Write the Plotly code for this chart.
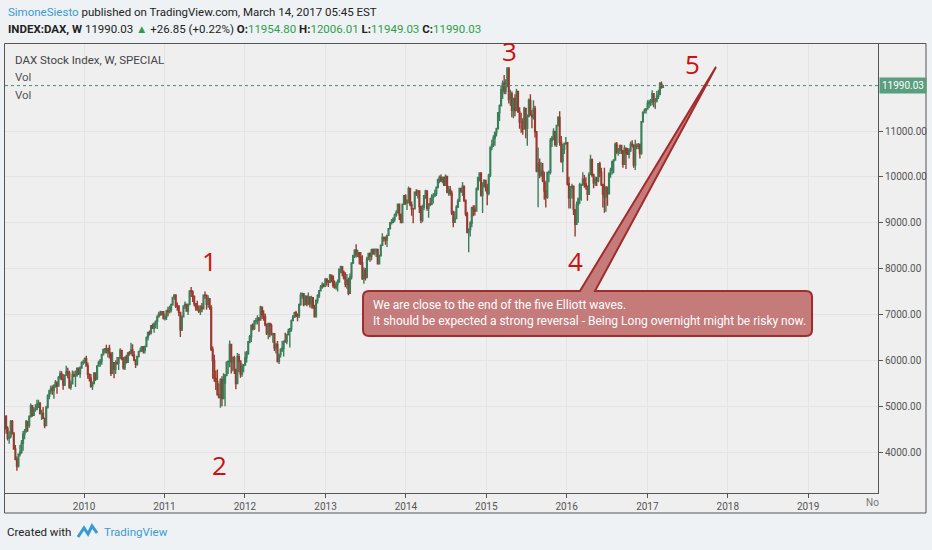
import pandas as pd
import plotly.graph_objects as go

# weekly DAX bars: (close, high, low), open = previous close
first_open = 4783
w2009 = [(4510, 4800, 4400), (4300, 4560, 4250), (4338, 4450, 4180), (4666, 4700, 4300),
         (4413, 4700, 4380), (4066, 4420, 4050), (3843, 4150, 3820), (3695, 3900, 3590),
         (3953, 3970, 3660), (3996, 4150, 3900), (4188, 4260, 3960), (4389, 4460, 4030),
         (4452, 4500, 4280), (4664, 4700, 4420), (4578, 4660, 4440), (4770, 4800, 4530),
         (5011, 5060, 4750), (4800, 5000, 4770), (4928, 4980, 4790), (4940, 5040, 4880),
         (5044, 5140, 4910), (5068, 5140, 4960), (4839, 5060, 4820), (4840, 4920, 4700),
         (4738, 4980, 4720), (4576, 4740, 4520), (4977, 5010, 4580), (5221, 5260, 4950),
         (5332, 5360, 5150), (5386, 5450, 5260), (5345, 5450, 5250), (5450, 5480, 5160),
         (5523, 5570, 5400), (5438, 5520, 5270), (5620, 5660, 5430), (5703, 5770, 5580),
         (5581, 5760, 5570), (5459, 5700, 5360), (5672, 5690, 5440), (5743, 5880, 5670),
         (5723, 5840, 5610), (5414, 5770, 5380), (5488, 5560, 5360), (5687, 5780, 5500),
         (5663, 5760, 5630), (5685, 5780, 5420), (5817, 5850, 5640), (5709, 5850, 5680),
         (5832, 5870, 5620), (5945, 5980, 5820), (5957, 6010, 5900)]
w2010 = [(6037, 6060, 5930), (5876, 6100, 5860), (5696, 5950, 5600), (5608, 5700, 5540),
         (5434, 5700, 5400), (5500, 5540, 5350), (5722, 5730, 5470), (5598, 5700, 5550),
         (5877, 5880, 5570), (5945, 5990, 5860), (5982, 6030, 5860), (6120, 6140, 5900),
         (6235, 6250, 6110), (6250, 6270, 6150), (6180, 6340, 6150), (6260, 6270, 6060),
         (6136, 6340, 6040), (5716, 6180, 5660), (5947, 6180, 5800), (5805, 5940, 5610),
         (5947, 6000, 5700), (5939, 6070, 5900), (6049, 6070, 5790), (6216, 6260, 6040),
         (6028, 6230, 6000), (5835, 6070, 5800), (6065, 6080, 5790), (5956, 6120, 5930),
         (6157, 6180, 5950), (6147, 6200, 6100), (6228, 6380, 6140), (6111, 6350, 6080),
         (6006, 6200, 5980), (5912, 6000, 5830), (6081, 6100, 5880), (6191, 6200, 6060),
         (6205, 6280, 6180), (6298, 6300, 6180), (6211, 6300, 6150), (6297, 6320, 6150),
         (6493, 6520, 6290), (6605, 6620, 6430), (6601, 6650, 6540), (6754, 6770, 6560),
         (6700, 6800, 6690), (6792, 6830, 6600), (6850, 6850, 6700), (6947, 6980, 6680),
         (7007, 7060, 6940), (6990, 7080, 6970), (7057, 7070, 6980), (6914, 7070, 6890)]
w2011 = [(6948, 7020, 6870), (7075, 7100, 6880), (7062, 7170, 6960), (7102, 7190, 7020),
         (7216, 7230, 7040), (7371, 7380, 7190), (7426, 7440, 7320), (7185, 7420, 7140),
         (7178, 7260, 7080), (7044, 7200, 6960), (6664, 7050, 6510), (6946, 6980, 6640),
         (7177, 7200, 6950), (7217, 7280, 7120), (7073, 7240, 7060), (7214, 7240, 6990),
         (7514, 7520, 7230), (7492, 7600, 7380), (7398, 7530, 7270), (7234, 7350, 7180),
         (7160, 7240, 7080), (7109, 7300, 7080), (7070, 7200, 7030), (7164, 7200, 6990),
         (7121, 7250, 7050), (7420, 7430, 7120), (7419, 7500, 7340), (7220, 7400, 7100),
         (7344, 7420, 7150), (7158, 7350, 7100), (6236, 7200, 6200), (5997, 6300, 5600),
         (5602, 6120, 5530), (5538, 5780, 5350), (5246, 5800, 5240), (5189, 5500, 5180),
         (5574, 5610, 4966), (5164, 5650, 5000), (5502, 5720, 5160), (5675, 5700, 5000),
         (5954, 5980, 5650), (5971, 6000, 5700), (6346, 6430, 5850), (5966, 6200, 5710),
         (6057, 6080, 5760), (5800, 6100, 5700), (5493, 5800, 5370), (6080, 6160, 5480),
         (5986, 6140, 5740), (5701, 5990, 5620), (5878, 5930, 5640), (5898, 5920, 5740)]
w2012 = [(6057, 6190, 5880), (6143, 6200, 5950), (6404, 6420, 6120), (6512, 6550, 6370),
         (6766, 6780, 6400), (6692, 6810, 6650), (6848, 6880, 6660), (6864, 6920, 6780),
         (6921, 6980, 6780), (6880, 6920, 6620), (7157, 7190, 6870), (6996, 7160, 6900),
         (6947, 7090, 6860), (6775, 7020, 6740), (6583, 6800, 6550), (6801, 6820, 6460),
         (6762, 6800, 6500), (6561, 6800, 6540), (6579, 6600, 6380), (6271, 6560, 6200),
         (6339, 6380, 6150), (5978, 6420, 5950), (6130, 6140, 5920), (6229, 6260, 6060),
         (6263, 6420, 6180), (6416, 6430, 6080), (6410, 6600, 6380), (6557, 6580, 6350),
         (6630, 6690, 6540), (6689, 6700, 6280), (6865, 6890, 6620), (6945, 6990, 6850),
         (7040, 7060, 6920), (6971, 7080, 6940), (6970, 7020, 6850), (7214, 7240, 6920),
         (7412, 7480, 7190), (7451, 7480, 7340), (7216, 7420, 7180), (7397, 7420, 7210),
         (7232, 7380, 7180), (7380, 7480, 7200), (7231, 7380, 7150), (7364, 7410, 7130),
         (7163, 7380, 7120), (6950, 7210, 6940), (7309, 7320, 6960), (7406, 7440, 7240),
         (7518, 7530, 7360), (7596, 7640, 7520), (7636, 7700, 7560), (7612, 7680, 7590)]
w2013 = [(7776, 7790, 7620), (7716, 7780, 7630), (7702, 7750, 7600), (7857, 7880, 7680),
         (7833, 7870, 7700), (7635, 7840, 7580), (7593, 7740, 7560), (7661, 7710, 7540),
         (7708, 7760, 7500), (7986, 8000, 7690), (8042, 8060, 7900), (7913, 8030, 7830),
         (7795, 7960, 7760), (7659, 7920, 7590), (7745, 7880, 7560), (7459, 7800, 7420),
         (7814, 7890, 7500), (8122, 8130, 7760), (8278, 8300, 8100), (8399, 8420, 8230),
         (8306, 8530, 8240), (8348, 8410, 8250), (8254, 8330, 8090), (8127, 8360, 8080),
         (7789, 8290, 7750), (7959, 8030, 7670), (7806, 8010, 7740), (8212, 8260, 7820),
         (8331, 8340, 8180), (8275, 8350, 8150), (8410, 8430, 8180), (8338, 8440, 8300),
         (8392, 8440, 8290), (8416, 8440, 8250), (8104, 8400, 8100), (8276, 8300, 8100),
         (8510, 8520, 8280), (8675, 8770, 8490), (8661, 8700, 8590), (8623, 8700, 8520),
         (8725, 8740, 8470), (8869, 8880, 8720), (9001, 9010, 8850), (9010, 9080, 8960),
         (9078, 9120, 8990), (9168, 9200, 9020), (9225, 9270, 9130), (9405, 9420, 9200),
         (9172, 9410, 9060), (9006, 9200, 8990), (9400, 9420, 9000), (9589, 9600, 9400)]
w2014 = [(9435, 9620, 9390), (9473, 9510, 9280), (9742, 9790, 9420), (9392, 9760, 9360),
         (9306, 9460, 9150), (9301, 9320, 8990), (9663, 9670, 9300), (9657, 9730, 9580),
         (9692, 9720, 9530), (9350, 9700, 9210), (9056, 9370, 8990), (9342, 9390, 9010),
         (9588, 9600, 9270), (9695, 9720, 9520), (9315, 9620, 9260), (9409, 9420, 9110),
         (9401, 9540, 9360), (9556, 9620, 9380), (9581, 9640, 9420), (9630, 9720, 9580),
         (9768, 9790, 9580), (9943, 9950, 9760), (9987, 10030, 9860), (9912, 10050, 9890),
         (9987, 10010, 9860), (9815, 10000, 9800), (10009, 10050, 9830), (9666, 10000, 9640),
         (9720, 9800, 9590), (9644, 9800, 9590), (9210, 9700, 9170), (9009, 9260, 8900),
         (9092, 9250, 9000), (9339, 9380, 9100), (9470, 9520, 9320), (9747, 9760, 9460),
         (9691, 9760, 9650), (9799, 9890, 9580), (9490, 9800, 9450), (9195, 9500, 9140),
         (8788, 9240, 8770), (8850, 8880, 8355), (8988, 9030, 8700), (9326, 9350, 8900),
         (9291, 9380, 9140), (9252, 9380, 9160), (9732, 9770, 9260), (9980, 10000, 9700),
         (10087, 10090, 9900), (9594, 10080, 9570), (9787, 9880, 9210), (9922, 9950, 9800),
         (9764, 9900, 9680)]
w2015 = [(9648, 9850, 9380), (10032, 10070, 9600), (10649, 10660, 9990), (10694, 10810, 10580),
         (10846, 10910, 10650), (10963, 10990, 10680), (11050, 11070, 10880), (11401, 11410, 11060),
         (11550, 11580, 11220), (11901, 12000, 11550), (12039, 12100, 11700), (11868, 12220, 11800),
         (11967, 12130, 11800), (12375, 12390, 12000), (11688, 12370, 11600), (11810, 11900, 11550),
         (11454, 11860, 11300), (11709, 11720, 11280), (11447, 11800, 11320), (11865, 11920, 11500),
         (11413, 11830, 11400), (11197, 11520, 11050), (11197, 11400, 10960), (11041, 11280, 10920),
         (11492, 11530, 11050), (11058, 11300, 10840), (11315, 11360, 10680), (11673, 11710, 11300),
         (11347, 11800, 11330), (11308, 11460, 11060), (11490, 11670, 11250), (10985, 11550, 10860),
         (10124, 10990, 10100), (10298, 10640, 9338), (10038, 10400, 9970), (10123, 10320, 10000),
         (9916, 10300, 9880), (9688, 10110, 9500), (9553, 9900, 9330), (10096, 10100, 9520),
         (10104, 10140, 9880), (10794, 10850, 10050), (10850, 10890, 10650), (10988, 11060, 10800),
         (10708, 10980, 10660), (11119, 11130, 10650), (11293, 11320, 11100), (10752, 11430, 10680),
         (10340, 10890, 10310), (10608, 10720, 10100), (10728, 10740, 10500), (10743, 10870, 10700)]
w2016 = [(9849, 10490, 9810), (9545, 10000, 9310), (9764, 9800, 9310), (9798, 9850, 9530),
         (9286, 9800, 9170), (8967, 9300, 8699), (9388, 9460, 9010), (9513, 9550, 9000),
         (9824, 9870, 9410), (9831, 9850, 9480), (9950, 10100, 9800), (9851, 10040, 9760),
         (9794, 9990, 9720), (9622, 9800, 9480), (10051, 10100, 9620), (10373, 10480, 10040),
         (10039, 10400, 9990), (9870, 10070, 9750), (9952, 10010, 9800), (9916, 10000, 9800),
         (10286, 10300, 9880), (10103, 10330, 9990), (9834, 10200, 9800), (9631, 9830, 9330),
         (9557, 10200, 9220), (9776, 9800, 9240), (9629, 9780, 9370), (10066, 10100, 9680),
         (10147, 10200, 9980), (10337, 10340, 10050), (10367, 10380, 10080), (10713, 10750, 10390),
         (10544, 10760, 10500), (10587, 10630, 10460), (10683, 10700, 10500), (10573, 10700, 10500),
         (10276, 10550, 10200), (10627, 10690, 10280), (10511, 10640, 10170), (10490, 10630, 10480),
         (10580, 10630, 10400), (10711, 10770, 10540), (10696, 10800, 10640), (10259, 10690, 10200),
         (10668, 10810, 10150), (10665, 10730, 10600), (10700, 10740, 10600), (10513, 10730, 10400),
         (11203, 11210, 10480), (11404, 11430, 11180), (11450, 11490, 11380), (11481, 11500, 11380)]
w2017 = [(11599, 11670, 11470), (11629, 11680, 11500), (11630, 11700, 11540), (11814, 11890, 11560),
         (11651, 11820, 11520), (11666, 11720, 11480), (11757, 11870, 11620), (11804, 11900, 11700),
         (12027, 12070, 11780), (11963, 12080, 11920)]
# current bar, as printed in the header
last_open, last_high, last_low, last_close = 11954.80, 12006.01, 11949.03, 11990.03

year_ticks = ["2010", "2011", "2012", "2013", "2014", "2015", "2016", "2017", "2018", "2019"]
price_ticks = [4000, 5000, 6000, 7000, 8000, 9000, 10000, 11000]
wave_labels = ["1", "2", "3", "4", "5"]
wave_dates = ["2011-07-24", "2011-09-08", "2015-04-16", "2016-02-10", "2017-07-23"]
wave_levels = [8174, 3717, 12739, 8174, 12457]

bars = w2009 + w2010 + w2011 + w2012 + w2013 + w2014 + w2015 + w2016 + w2017
closes = [b[0] for b in bars] + [last_close]
opens = [first_open] + [b[0] for b in bars[:-1]] + [last_open]
highs = [max(b[1], o, b[0]) for b, o in zip(bars, opens)] + [last_high]
lows = [min(b[2], o, b[0]) for b, o in zip(bars, opens)] + [last_low]
dates = pd.date_range("2009-01-12", periods=len(closes), freq="7D")

FONT = "Roboto, sans-serif"

# layout in pixels -> paper coords
L, T, W, H = 5, 43, 873, 450
def px(x):
    return (x - L) / W
def py(y):
    return (T + H - y) / H

fig = go.Figure()
fig.add_trace(go.Candlestick(
    x=dates, open=opens, high=highs, low=lows, close=closes,
    increasing=dict(fillcolor="#6ba583", line=dict(color="#3b7f5a", width=1.4)),
    decreasing=dict(fillcolor="#d75442", line=dict(color="#9a3a2e", width=1.4)),
    whiskerwidth=0, showlegend=False, hoverinfo="x+y"
))

# last price line
fig.add_shape(type="line", xref="paper", yref="y", x0=0, x1=1, y0=last_close, y1=last_close,
              line=dict(color="#3f8f6f", width=1, dash="dot"))

# chart frame: fill below, outline above
fig.add_shape(type="rect", xref="paper", yref="paper", x0=px(4), x1=px(926), y0=py(513), y1=py(43),
              line=dict(width=0), fillcolor="#efefef", layer="below")
fig.add_shape(type="rect", xref="paper", yref="paper", x0=px(4.5), x1=px(926), y0=py(513), y1=py(43.5),
              line=dict(color="#555555", width=1), fillcolor="rgba(0,0,0,0)", layer="above")

# callout with pointer
r = 6
pts = [("M", 363 + r, 291), ("L", 580, 291), ("L", 716, 67), ("L", 595, 291), ("L", 812 - r, 291),
       ("Q", 812, 291, 812, 291 + r), ("L", 812, 336 - r), ("Q", 812, 336, 812 - r, 336),
       ("L", 363 + r, 336), ("Q", 363, 336, 363, 336 - r), ("L", 363, 291 + r),
       ("Q", 363, 291, 363 + r, 291)]
path = ""
for p in pts:
    coords = p[1:]
    xy = " ".join(f"{px(coords[i]):.4f},{py(coords[i + 1]):.4f}" for i in range(0, len(coords), 2))
    path += f"{p[0]} {xy} "
path += "Z"
fig.add_shape(type="path", xref="paper", yref="paper", path=path,
              fillcolor="#c67b7b", line=dict(color="#a32b2b", width=2))

fig.add_annotation(xref="paper", yref="paper", x=px(371), y=py(313), xanchor="left", yanchor="middle",
                   align="left", showarrow=False,
                   text="We are close to the end of the five Elliott waves.<br>"
                        "It should be expected a strong reversal - Being Long overnight might be risky now.",
                   font=dict(family=FONT, size=12, color="#ffffff"))

# Elliott wave numbers
for lab, d, v in zip(wave_labels, wave_dates, wave_levels):
    fig.add_annotation(x=d, y=v, text=lab, showarrow=False,
                       font=dict(family="Open Sans, sans-serif", size=26, color="#cc1111"))

# header / footer texts
fig.add_annotation(xref="paper", yref="paper", x=px(6), y=py(12), xanchor="left", yanchor="middle",
                   showarrow=False, font=dict(family=FONT, size=11.5, color="#222222"),
                   text="<span style='color:#3a9ad9'>SimoneSiesto</span> published on TradingView.com, March 14, 2017 05:45 EST")
g = "#2ea04a"
fig.add_annotation(xref="paper", yref="paper", x=px(6), y=py(29), xanchor="left", yanchor="middle",
                   showarrow=False, font=dict(family=FONT, size=11.5, color="#222222"),
                   text=(f"<b>INDEX:DAX, W</b> 11990.03 <span style='color:{g}'>▲</span> +26.85 (+0.22%) "
                         f"<b>O:</b><span style='color:{g}'>11954.80</span> <b>H:</b><span style='color:{g}'>12006.01</span> "
                         f"<b>L:</b><span style='color:{g}'>11949.03</span> <b>C:</b><span style='color:{g}'>11990.03</span>"))
fig.add_annotation(xref="paper", yref="paper", x=px(13), y=py(60), xanchor="left", yanchor="middle",
                   showarrow=False, font=dict(family=FONT, size=11.5, color="#444444"),
                   text="DAX Stock Index, W, SPECIAL")
for yy in (77, 95):
    fig.add_annotation(xref="paper", yref="paper", x=px(13), y=py(yy), xanchor="left", yanchor="middle",
                       showarrow=False, font=dict(family=FONT, size=11.5, color="#555555"), text="Vol")
fig.add_annotation(xref="paper", yref="paper", x=px(872), y=py(503), xanchor="center", yanchor="middle",
                   showarrow=False, font=dict(family=FONT, size=10, color="#777777"), text="No")
fig.add_annotation(xref="paper", yref="y", x=1, y=last_close, xanchor="left", yanchor="middle",
                   showarrow=False, bgcolor="#5a9e7f", borderpad=2, xshift=1,
                   font=dict(family=FONT, size=10, color="#ffffff"), text=f"{last_close:.2f}")
fig.add_annotation(xref="paper", yref="paper", x=px(5), y=py(532), xanchor="left", yanchor="middle",
                   showarrow=False, font=dict(family=FONT, size=11.5, color="#222222"), text="Created with")
fig.add_annotation(xref="paper", yref="paper", x=px(102), y=py(532), xanchor="left", yanchor="middle",
                   showarrow=False, font=dict(family=FONT, size=11.5, color="#3a9ad9"), text="TradingView")
logo = [(78, 537), (84, 528), (88, 534), (92, 526), (97, 533)]
fig.add_shape(type="path", xref="paper", yref="paper",
              path="M " + " L ".join(f"{px(a):.4f},{py(b):.4f}" for a, b in logo),
              line=dict(color="#3a9ad9", width=3))

fig.update_layout(
    width=932, height=550,
    margin=dict(l=L, r=932 - L - W, t=T, b=550 - T - H),
    paper_bgcolor="#eef2f5", plot_bgcolor="rgba(0,0,0,0)",
    font=dict(family=FONT, size=10, color="#555555"),
    xaxis=dict(type="date", range=["2009-01-07", "2019-11-14"], rangeslider=dict(visible=False),
               tickvals=[f"{y}-01-01" for y in year_ticks], ticktext=year_ticks,
               showgrid=True, gridcolor="#e4e4e4", showline=True, linecolor="#555555",
               ticks="outside", ticklen=4, tickcolor="#555555", zeroline=False),
    yaxis=dict(side="right", range=[3106, 12919], tickvals=price_ticks,
               ticktext=[f"{v:.2f}" for v in price_ticks],
               showgrid=True, gridcolor="#e4e4e4", showline=True, linecolor="#555555",
               ticks="outside", ticklen=4, tickcolor="#555555", zeroline=False),
)

fig.write_html("out.html", config={"displayModeBar": False},
               post_script="document.body.style.margin='0';")
